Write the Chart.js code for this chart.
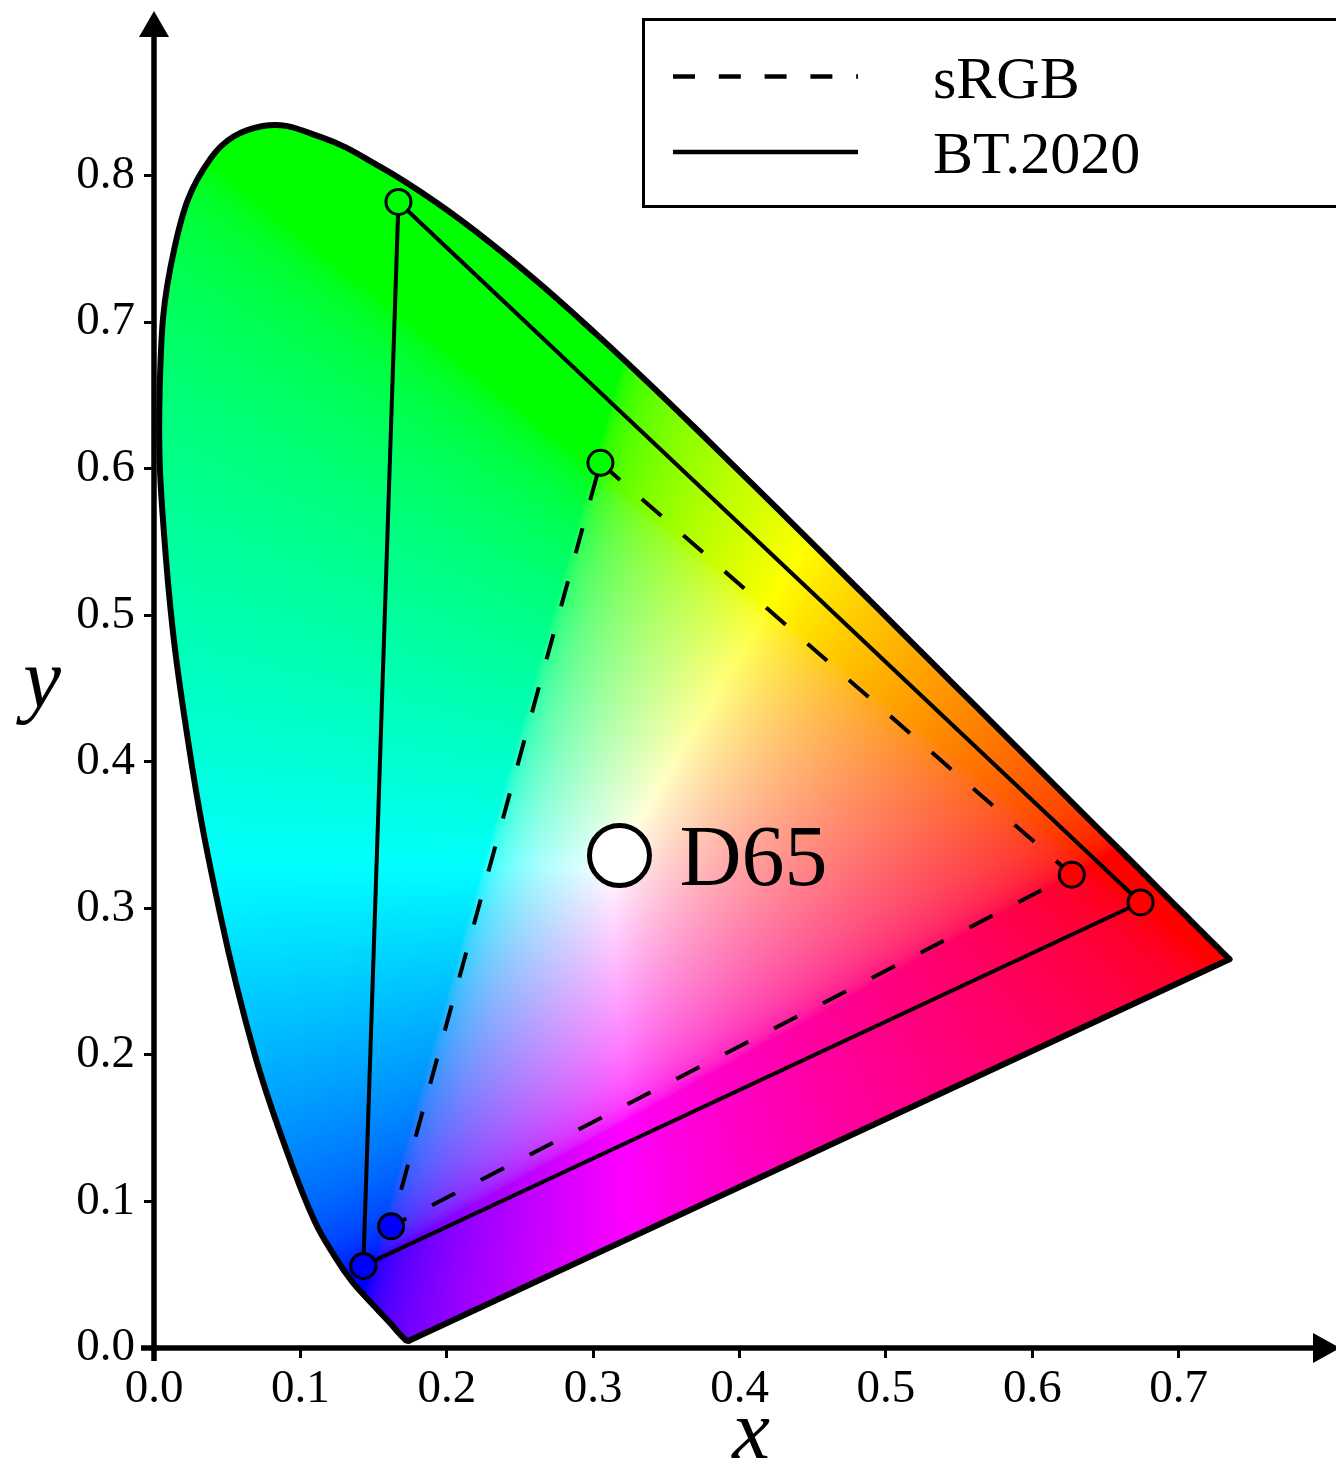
<!DOCTYPE html>
<html>
<head>
<meta charset="utf-8">
<script src="https://cdn.jsdelivr.net/npm/chart.js@4.4.1/dist/chart.umd.min.js"></script>
<style>
  html, body { margin: 0; padding: 0; background: #ffffff; }
  #wrap { width: 1336px; height: 1467px; }
</style>
</head>
<body>
<div id="wrap"><canvas id="c" width="1336" height="1467"></canvas></div>
<script>
// ---------- data ----------
const locusNm = [380,385,390,395,400,405,410,415,420,425,430,435,440,445,450,455,460,465,470,475,480,485,490,495,500,505,510,515,520,525,530,535,540,545,550,555,560,565,570,575,580,585,590,595,600,605,610,615,620,625,630,635,640,645,650,655,660,665,670,675,680,685,690,695,700];
const locusX = [0.1741,0.1740,0.1738,0.1736,0.1733,0.1730,0.1726,0.1721,0.1714,0.1703,0.1689,0.1669,0.1644,0.1611,0.1566,0.1510,0.1440,0.1355,0.1241,0.1096,0.0913,0.0687,0.0454,0.0235,0.0082,0.0039,0.0139,0.0389,0.0743,0.1142,0.1547,0.1929,0.2296,0.2658,0.3016,0.3374,0.3731,0.4087,0.4441,0.4788,0.5125,0.5448,0.5752,0.6029,0.6270,0.6482,0.6658,0.6801,0.6915,0.7006,0.7079,0.7140,0.7190,0.7230,0.7260,0.7283,0.7300,0.7311,0.7320,0.7327,0.7334,0.7340,0.7344,0.7346,0.7347];
const locusY = [0.0050,0.0050,0.0050,0.0050,0.0050,0.0050,0.0051,0.0053,0.0060,0.0070,0.0085,0.0105,0.0135,0.0172,0.0220,0.0280,0.0355,0.0450,0.0615,0.0868,0.1327,0.2007,0.2950,0.4127,0.5384,0.6548,0.7502,0.8120,0.8338,0.8262,0.8059,0.7816,0.7543,0.7243,0.6923,0.6589,0.6245,0.5896,0.5547,0.5202,0.4866,0.4544,0.4242,0.3965,0.3725,0.3514,0.3340,0.3197,0.3083,0.2993,0.2920,0.2859,0.2809,0.2770,0.2740,0.2717,0.2700,0.2689,0.2680,0.2673,0.2666,0.2660,0.2656,0.2654,0.2653];

// gamut triangles: G, R, B, back to G
const srgbX   = [0.305, 0.627, 0.162, 0.305];
const srgbY   = [0.604, 0.323, 0.083, 0.604];
const bt2020X = [0.167, 0.674, 0.143, 0.167];
const bt2020Y = [0.782, 0.304, 0.056, 0.782];
const primaryColors = ['#00ff00', '#ff0000', '#0000ff', '#00ff00'];

const whiteX = [0.318];
const whiteY = [0.336];
const whiteLabel = 'D65';

const legendLabels = ['sRGB', 'BT.2020'];
const xTickValues = [0.0, 0.1, 0.2, 0.3, 0.4, 0.5, 0.6, 0.7];
const xTickLabels = ['0.0','0.1','0.2','0.3','0.4','0.5','0.6','0.7'];
const yTickValues = [0.0, 0.1, 0.2, 0.3, 0.4, 0.5, 0.6, 0.7, 0.8];
const yTickLabels = ['0.0','0.1','0.2','0.3','0.4','0.5','0.6','0.7','0.8'];
const xTitle = 'x';
const yTitle = 'y';

// ---------- helpers ----------
const SERIF = "'Liberation Serif', 'Times New Roman', serif";
const pts = (xs, ys) => xs.map((x, i) => ({ x: x, y: ys[i] }));

function gammaEnc(v) {
  return v <= 0.0031308 ? 12.92 * v : 1.055 * Math.pow(v, 1 / 2.4) - 0.055;
}

let colorCanvas = null, colorKey = '';
function getColorCanvas(chart) {
  const a = chart.chartArea;
  const key = [a.left, a.right, a.top, a.bottom, chart.width, chart.height].join(',');
  if (colorCanvas && key === colorKey) return colorCanvas;
  const W = chart.width, H = chart.height;
  const cv = document.createElement('canvas');
  cv.width = W; cv.height = H;
  const c2 = cv.getContext('2d');
  const img = c2.createImageData(W, H);
  const d = img.data;
  const xs = chart.scales.x, ys = chart.scales.y;
  const y0 = Math.max(0, Math.floor(a.top) - 10), y1 = Math.min(H, Math.ceil(a.bottom) + 2);
  const x0 = Math.max(0, Math.floor(a.left)), x1 = Math.min(W, Math.ceil(a.right));
  for (let py = y0; py < y1; py++) {
    const yv = Math.max(ys.getValueForPixel(py + 0.5), 0.0005);
    for (let px = x0; px < x1; px++) {
      const xv = xs.getValueForPixel(px + 0.5);
      const X = xv / yv, Y = 1, Z = (1 - xv - yv) / yv;
      let r = 3.2406 * X - 1.5372 * Y - 0.4986 * Z;
      let g = -0.9689 * X + 1.8758 * Y + 0.0415 * Z;
      let b = 0.0557 * X - 0.2040 * Y + 1.0570 * Z;
      r = Math.max(r, 0); g = Math.max(g, 0); b = Math.max(b, 0);
      const m = Math.max(r, g, b) || 1;
      const i = (py * W + px) * 4;
      d[i] = Math.round(255 * gammaEnc(r / m));
      d[i + 1] = Math.round(255 * gammaEnc(g / m));
      d[i + 2] = Math.round(255 * gammaEnc(b / m));
      d[i + 3] = 255;
    }
  }
  c2.putImageData(img, 0, 0);
  colorCanvas = cv; colorKey = key;
  return cv;
}

// fill the horseshoe with chromaticity colours, clipped to the library's own locus path
const locusFillPlugin = {
  id: 'locusFill',
  beforeDatasetsDraw(chart) {
    const ctx = chart.ctx;
    const locusMeta = chart.getDatasetMeta(0);
    const purpleMeta = chart.getDatasetMeta(1);
    const line = locusMeta.dataset;
    if (!line) return;
    line.updateControlPoints(chart.chartArea, 'x');
    ctx.save();
    ctx.beginPath();
    line.path(ctx);
    const p = purpleMeta.data;
    if (p && p.length) ctx.lineTo(p[p.length - 1].x, p[p.length - 1].y);
    ctx.closePath();
    ctx.clip();
    ctx.drawImage(getColorCanvas(chart), 0, 0);
    ctx.restore();
  }
};

// axes with arrows, axis titles, D65 label and the legend box
const decorPlugin = {
  id: 'decor',
  afterDatasetsDraw(chart) {
    const ctx = chart.ctx;
    const { left, bottom } = chart.chartArea;
    const xs = chart.scales.x, ys = chart.scales.y;
    ctx.save();
    ctx.strokeStyle = '#000';
    ctx.fillStyle = '#000';
    ctx.lineWidth = 5.5;
    ctx.lineCap = 'butt';
    // y axis
    ctx.beginPath();
    ctx.moveTo(left, bottom + 13);
    ctx.lineTo(left, 32);
    ctx.stroke();
    ctx.beginPath();
    ctx.moveTo(left, 11);
    ctx.lineTo(left - 15, 37);
    ctx.lineTo(left + 15, 37);
    ctx.closePath();
    ctx.fill();
    // x axis
    ctx.beginPath();
    ctx.moveTo(left - 13, bottom);
    ctx.lineTo(1316, bottom);
    ctx.stroke();
    ctx.beginPath();
    ctx.moveTo(1340, bottom);
    ctx.lineTo(1313, bottom - 15);
    ctx.lineTo(1313, bottom + 15);
    ctx.closePath();
    ctx.fill();

    // axis titles
    ctx.font = 'italic 85px ' + SERIF;
    ctx.textAlign = 'center';
    ctx.textBaseline = 'alphabetic';
    ctx.fillText(yTitle, 42, 707);
    ctx.fillText(xTitle, 751, 1458);

    // D65 label
    const wx = xs.getPixelForValue(whiteX[0]);
    const wy = ys.getPixelForValue(whiteY[0]);
    ctx.font = '86px ' + SERIF;
    ctx.textAlign = 'left';
    ctx.fillText(whiteLabel, wx + 60, wy + 29);

    // legend
    ctx.lineWidth = 3;
    ctx.strokeRect(643.5, 19.5, 730, 187);
    ctx.lineWidth = 4.5;
    ctx.beginPath();
    ctx.setLineDash([22, 23.8]);
    ctx.moveTo(673, 76.5);
    ctx.lineTo(858, 76.5);
    ctx.stroke();
    ctx.setLineDash([]);
    ctx.beginPath();
    ctx.moveTo(673, 152);
    ctx.lineTo(858, 152);
    ctx.stroke();
    ctx.font = '60px ' + SERIF;
    ctx.textAlign = 'left';
    ctx.fillText(legendLabels[0], 933, 98);
    ctx.fillText(legendLabels[1], 933, 173);
    ctx.restore();
  }
};

const tickFont = { family: SERIF, size: 47 };

new Chart(document.getElementById('c'), {
  type: 'scatter',
  data: {
    datasets: [
      {
        label: 'spectral locus',
        data: pts(locusX, locusY),
        showLine: true,
        borderColor: '#000',
        borderWidth: 6,
        borderCapStyle: 'round',
        borderJoinStyle: 'round',
        pointRadius: 0,
        tension: 0.4,
        fill: false,
        clip: false,
        order: 5
      },
      {
        label: 'line of purples',
        data: [
          { x: locusX[locusX.length - 1], y: locusY[locusY.length - 1] },
          { x: locusX[0], y: locusY[0] }
        ],
        showLine: true,
        borderColor: '#000',
        borderWidth: 6,
        borderCapStyle: 'round',
        pointRadius: 0,
        tension: 0,
        fill: false,
        clip: false,
        order: 5
      },
      {
        label: legendLabels[1],
        data: pts(bt2020X, bt2020Y),
        showLine: true,
        borderColor: '#000',
        borderWidth: 4,
        tension: 0,
        fill: false,
        pointRadius: [12.5, 12.5, 12.5, 0],
        pointBackgroundColor: primaryColors,
        pointBorderColor: '#000',
        pointBorderWidth: 3,
        clip: false,
        order: 3
      },
      {
        label: legendLabels[0],
        data: pts(srgbX, srgbY),
        showLine: true,
        borderColor: '#000',
        borderWidth: 4,
        borderDash: [26, 29],
        tension: 0,
        fill: false,
        pointRadius: [12.5, 12.5, 12.5, 0],
        pointBackgroundColor: primaryColors,
        pointBorderColor: '#000',
        pointBorderWidth: 3,
        clip: false,
        order: 2
      },
      {
        label: whiteLabel,
        data: pts(whiteX, whiteY),
        showLine: false,
        pointRadius: 30,
        pointBackgroundColor: '#ffffff',
        pointBorderColor: '#000',
        pointBorderWidth: 5,
        clip: false,
        order: 1
      }
    ]
  },
  options: {
    responsive: false,
    animation: false,
    devicePixelRatio: 1,
    events: [],
    layout: { autoPadding: false, padding: { left: 0, right: 11, top: 29, bottom: 0 } },
    plugins: {
      legend: { display: false },
      tooltip: { enabled: false },
      title: { display: false }
    },
    scales: {
      x: {
        type: 'linear',
        min: 0,
        max: 0.8,
        afterBuildTicks: (s) => { s.ticks = xTickValues.map(v => ({ value: v })); },
        afterFit: (s) => {
          s.height = 119;
          s.paddingLeft = 0; s.paddingRight = 0; s.paddingTop = 0; s.paddingBottom = 0;
        },
        ticks: {
          callback: (v, i) => xTickLabels[i],
          font: tickFont,
          color: '#000',
          padding: 3,
          maxRotation: 0,
          autoSkip: false
        },
        grid: { display: true, drawOnChartArea: false, drawTicks: true, tickLength: 10, tickWidth: 3, tickColor: '#000' },
        border: { display: false }
      },
      y: {
        type: 'linear',
        min: 0,
        max: 0.9,
        afterBuildTicks: (s) => { s.ticks = yTickValues.map(v => ({ value: v })); },
        afterFit: (s) => {
          s.width = 154;
          s.paddingLeft = 0; s.paddingRight = 0; s.paddingTop = 0; s.paddingBottom = 0;
        },
        ticks: {
          callback: (v, i) => yTickLabels[i],
          font: tickFont,
          color: '#000',
          padding: 9,
          autoSkip: false
        },
        grid: { display: true, drawOnChartArea: false, drawTicks: true, tickLength: 10, tickWidth: 3, tickColor: '#000' },
        border: { display: false }
      }
    }
  },
  plugins: [locusFillPlugin, decorPlugin]
});
</script>
</body>
</html>
